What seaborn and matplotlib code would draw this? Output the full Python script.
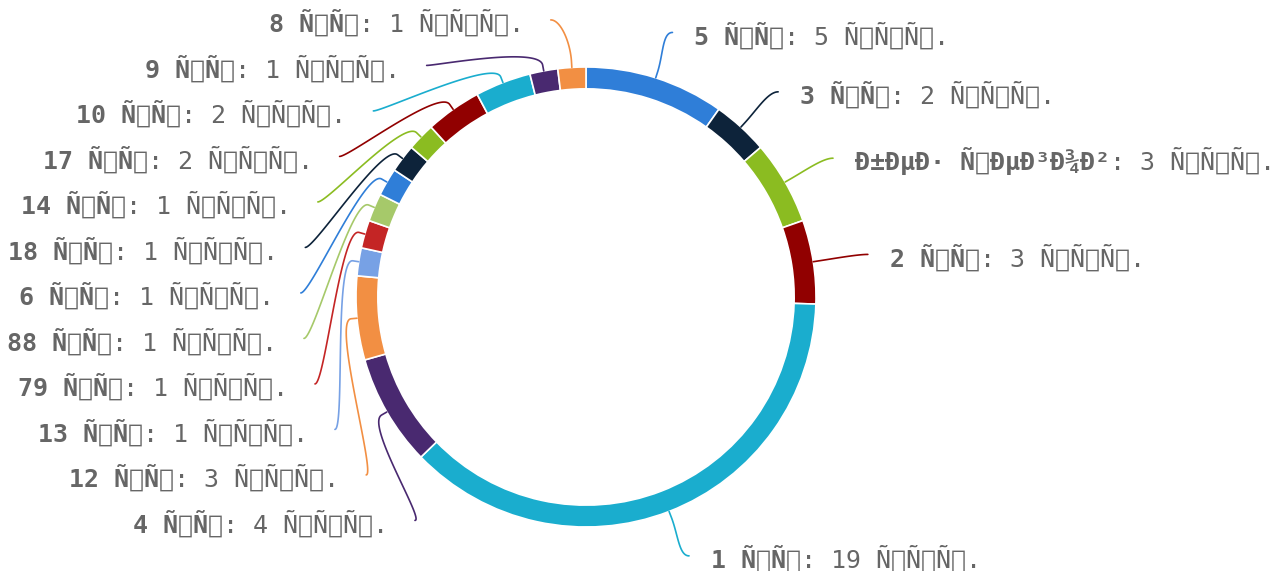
import numpy as np
import seaborn as sns
import matplotlib.pyplot as plt

sns.set_theme(style="white")
plt.rcParams['font.family'] = ['DejaVu Sans Mono', 'DejaVu Sans']

# slices, clockwise from 12 o'clock
levels = ["5 ур", "3 ур", "без регов", "2 ур", "1 ур", "4 ур", "12 ур", "13 ур",
          "79 ур", "88 ур", "6 ур", "18 ур", "14 ур", "17 ур", "10 ур", "9 ур", "8 ур"]
counts = [5, 2, 3, 3, 19, 4, 3, 1, 1, 1, 1, 1, 1, 2, 2, 1, 1]
unit = "тыс."
palette = ['#2f7ed8', '#0d233a', '#8bbc21', '#910000', '#1aadce', '#492970',
           '#f28f43', '#77a1e5', '#c42525', '#a6c96a']


def garble(s):
    # the page showed utf-8 read back as latin-1
    return s.encode('utf-8').decode('latin-1')


W, H = 1280, 571
S = 230.0            # pixels per unit radius
cx, cy = 586, 297    # pie centre in pixels
px = 1 / S
text_col = '#666666'
fs = 18

colors = sns.color_palette(palette, len(counts))

fig = plt.figure(figsize=(W / 100, H / 100), dpi=100)
ax = fig.add_axes([0, 0, 1, 1])
ax.pie(counts, colors=colors, startangle=90, counterclock=False, radius=1,
       wedgeprops=dict(width=0.095, edgecolor='white', linewidth=1.2))
ax.set_aspect('auto')
ax.set_xlim(-cx / S, (W - cx) / S)
ax.set_ylim(-(H - cy) / S, cy / S)
ax.axis('off')

vals = np.array(counts, dtype=float)
cum = np.cumsum(vals)
mid = np.radians((cum - vals / 2) / vals.sum() * 360)

# label anchor ellipse
A, B = 1.24, 1.207
step = 45.5 * px

anchors = {}
left = [i for i in range(len(counts)) if mid[i] > np.pi]
left = sorted(left, key=lambda i: -mid[i])
y_top = B * np.cos(mid[left[0]])
for k, i in enumerate(left):
    y = y_top - k * step
    x = -A * np.sqrt(max(1 - (y / 1.214) ** 2, 0))
    anchors[i] = (x, y)
for i in range(len(counts)):
    if mid[i] <= np.pi:
        anchors[i] = (A * np.sin(mid[i]), B * np.cos(mid[i]))


def bezier(p0, p1, p2, p3, n=60):
    t = np.linspace(0, 1, n)[:, None]
    return ((1 - t) ** 3) * p0 + 3 * t * (1 - t) ** 2 * p1 + 3 * t ** 2 * (1 - t) * p2 + t ** 3 * p3


for i, (name, n) in enumerate(zip(levels, counts)):
    ang = mid[i]
    radial = np.array([np.sin(ang), np.cos(ang)])
    touch = radial * 1.0
    brk = radial * (1 + 6 * px)
    c2 = radial * (1 + 25 * px)
    lab = np.array(anchors[i])
    is_left = ang > np.pi
    c1 = lab + np.array([10 * px if is_left else -10 * px, 0])
    curve = bezier(lab, c1, c2, brk)
    pts = np.vstack([curve, touch])
    ax.plot(pts[:, 0], pts[:, 1], color=colors[i], lw=1.2, solid_capstyle='round')

    name_txt = garble(name)
    val_txt = garble(f": {n} {unit}")
    ty = lab[1] - 3 * px
    if is_left:
        t = ax.text(lab[0] - 27 * px, ty, val_txt, ha='right', va='center',
                    fontsize=fs, color=text_col)
        ax.annotate(name_txt, xy=(0, 0.5), xycoords=t, ha='right', va='center',
                    fontsize=fs, color=text_col, fontweight='bold')
    else:
        t = ax.text(lab[0] + 22 * px, ty, name_txt, ha='left', va='center',
                    fontsize=fs, color=text_col, fontweight='bold')
        ax.annotate(val_txt, xy=(1, 0.5), xycoords=t, ha='left', va='center',
                    fontsize=fs, color=text_col)

fig.savefig('out.png', dpi=100)
